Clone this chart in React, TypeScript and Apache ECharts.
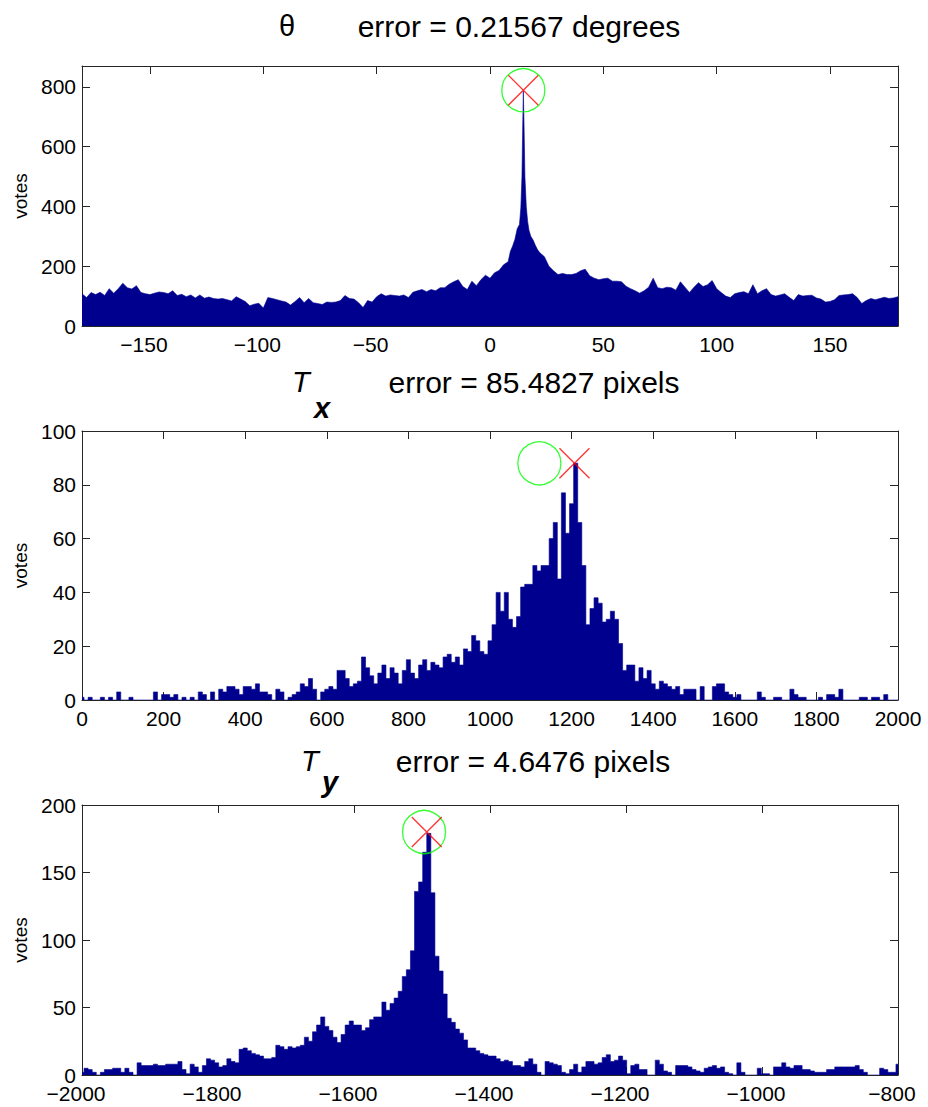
import React, { useEffect, useRef } from "react";
import * as echarts from "echarts";

const FONT = "'Liberation Sans', Arial, Helvetica, sans-serif";
const NAVY = "#00008f";
const AXIS = "#262626";

// ---------- θ histogram (degrees) ----------
// bins every 2° from -180 to 8
const THETA_LEFT = [
  108, 95, 112, 105, 113, 102, 125, 110, 125, 143,
  128, 124, 135, 112, 108, 105, 110, 114, 112, 108,
  118, 102, 106, 98, 104, 94, 104, 93, 97, 92,
  90, 92, 88, 84, 98, 90, 82, 68, 73, 76,
  60, 95, 92, 88, 84, 80, 70, 82, 95, 78,
  92, 78, 75, 72, 80, 79, 80, 85, 102, 92,
  90, 78, 62, 85, 80, 98, 108, 100, 104, 102,
  100, 104, 95, 113, 118, 122, 115, 122, 118, 128,
  128, 140, 148, 155, 132, 122, 150, 135, 155, 170,
  160, 178, 186, 205, 215,
];
// finely read peak region
const THETA_PEAK_DEG = [9, 10, 11, 12, 13, 13.6, 14.1, 14.4, 14.7, 15.0, 15.4, 16.0, 16.6, 17.2, 18, 19, 20, 21];
const THETA_PEAK_VOTES = [250, 268, 290, 325, 340, 395, 500, 650, 787, 680, 500, 400, 350, 320, 300, 288, 270, 255];
// bins every 2° from 22 to 180
const THETA_RIGHT = [
  245, 232, 200, 185, 172, 176, 172, 172, 176, 185,
  190, 168, 160, 155, 158, 160, 150, 150, 148, 133,
  125, 118, 110, 118, 130, 160, 128, 125, 130, 128,
  120, 148, 130, 112, 130, 145, 132, 138, 152, 125,
  112, 100, 95, 108, 112, 115, 108, 138, 108, 118,
  125, 105, 100, 104, 108, 96, 85, 105, 100, 102,
  103, 94, 90, 80, 82, 88, 102, 104, 105, 108,
  95, 75, 85, 92, 88, 92, 96, 92, 94, 98,
];
const THETA_TRUE = [14.7, 789];
const THETA_EST = [14.7, 789];
const THETA_X_TICKS = [-150, -100, -50, 0, 50, 100, 150];
const THETA_Y_TICKS = [0, 200, 400, 600, 800];

// ---------- Tx histogram (pixels), bins every 10 from 0 to 2000 ----------
const TX_VOTES = [
  1, 0, 1, 0, 0, 1, 0, 1, 0, 3,
  0, 0, 1, 0, 0, 0, 0, 0, 3, 0,
  2, 2, 1, 2, 0, 1, 0, 1, 0, 3,
  2, 0, 3, 0, 4, 3, 5, 5, 4, 2,
  5, 5, 4, 6, 3, 3, 2, 0, 4, 3,
  0, 1, 2, 3, 6, 5, 8, 4, 0, 3,
  4, 5, 4, 11, 11, 8, 5, 6, 7, 16,
  12, 9, 6, 10, 13, 8, 12, 10, 6, 11,
  15, 10, 8, 13, 15, 11, 14, 13, 12, 16,
  17, 14, 16, 13, 19, 18, 24, 22, 18, 17,
  22, 28, 40, 33, 40, 30, 27, 31, 42, 43,
  43, 50, 48, 50, 50, 60, 66, 45, 77, 62,
  73, 88, 66, 50, 28, 34, 38, 36, 29, 30,
  33, 30, 21, 11, 13, 13, 7, 12, 8, 11,
  6, 4, 7, 6, 5, 4, 5, 2, 4, 4,
  4, 0, 5, 0, 0, 5, 6, 6, 3, 2,
  1, 2, 0, 0, 0, 0, 3, 1, 0, 0,
  1, 1, 0, 0, 4, 2, 1, 1, 0, 0,
  0, 1, 0, 2, 2, 1, 4, 0, 0, 0,
  0, 1, 1, 0, 1, 1, 0, 2, 0, 0,
  0,
];
const TX_TRUE = [1121, 88];
const TX_EST = [1207, 88];
const TX_X_TICKS = [0, 200, 400, 600, 800, 1000, 1200, 1400, 1600, 1800, 2000];
const TX_Y_TICKS = [0, 20, 40, 60, 80, 100];

// ---------- Ty histogram (pixels), bins every 6 from -2000 to -800 ----------
const TY_VOTES = [
  2, 5, 4, 2, 0, 2, 4, 4, 5, 5,
  2, 5, 2, 0, 9, 7, 7, 7, 8, 7,
  7, 8, 8, 8, 10, 4, 1, 8, 6, 2,
  7, 12, 11, 9, 6, 7, 12, 10, 9, 19,
  20, 18, 16, 15, 14, 12, 12, 13, 22, 21,
  19, 21, 20, 21, 22, 28, 25, 32, 37, 43,
  36, 33, 28, 24, 30, 37, 40, 37, 37, 33,
  35, 41, 43, 43, 54, 48, 53, 57, 62, 73,
  78, 92, 136, 143, 165, 179, 135, 88, 77, 60,
  42, 39, 34, 31, 26, 20, 20, 18, 16, 15,
  14, 14, 12, 10, 11, 10, 7, 7, 6, 10,
  12, 8, 2, 0, 10, 9, 8, 7, 2, 1,
  4, 8, 2, 6, 10, 10, 8, 9, 13, 15,
  10, 11, 14, 11, 1, 7, 8, 4, 4, 0,
  0, 11, 8, 3, 2, 0, 7, 7, 7, 6,
  4, 3, 2, 5, 6, 7, 5, 6, 2, 1,
  0, 9, 2, 0, 0, 0, 5, 1, 1, 0,
  6, 6, 9, 6, 5, 7, 7, 4, 4, 3,
  2, 2, 2, 4, 4, 6, 6, 6, 6, 6,
  7, 4, 2, 0, 0, 0, 5, 4, 2, 2,
  8,
];
const TY_TRUE = [-1497, 180];
const TY_EST = [-1493, 180];
const TY_X_TICKS = [-2000, -1800, -1600, -1400, -1200, -1000, -800];
const TY_Y_TICKS = [0, 50, 100, 150, 200];

const LABEL_STYLE = { fontSize: 21, fontFamily: FONT, color: "#000" };

// negative labels: the minus sign hangs to the left of the centred number
const xFmt = (v: number) => (v < 0 ? `{neg|\u2212${Math.abs(v)}}` : `{pos|${v}}`);

function bins(start: number, step: number, values: number[]) {
  return values.map((v, i) => [start + step * i, v]);
}

function xAxes(grid: number, min: number, max: number, ticks: number[]) {
  const line = { show: true, onZero: false, lineStyle: { color: AXIS, width: 1 } };
  return [
    {
      type: "value", gridIndex: grid, min, max, position: "bottom",
      axisLine: line,
      axisTick: { show: true, inside: true, length: 8, customValues: ticks, lineStyle: { color: AXIS } },
      axisLabel: {
        customValues: ticks, formatter: xFmt, ...LABEL_STYLE, margin: 9,
        rich: {
          neg: { ...LABEL_STYLE, lineHeight: 18, padding: [0, 12, 0, 0] },
          pos: { ...LABEL_STYLE, lineHeight: 18 },
        },
      },
      splitLine: { show: false },
    },
    {
      type: "value", gridIndex: grid, min, max, position: "top",
      axisLine: line,
      axisTick: { show: true, inside: true, length: 8, customValues: ticks, lineStyle: { color: AXIS } },
      axisLabel: { show: false },
      splitLine: { show: false },
    },
  ];
}

function yAxes(grid: number, max: number, ticks: number[]) {
  const line = { show: true, onZero: false, lineStyle: { color: AXIS, width: 1 } };
  return [
    {
      type: "value", gridIndex: grid, min: 0, max, position: "left",
      name: "votes", nameLocation: "middle", nameGap: 50, nameRotate: 90,
      nameTextStyle: { fontSize: 19, color: "#000", fontFamily: FONT },
      axisLine: line,
      axisTick: { show: true, inside: true, length: 8, customValues: ticks, lineStyle: { color: AXIS } },
      axisLabel: { customValues: ticks, ...LABEL_STYLE, lineHeight: 16, margin: 6 },
      splitLine: { show: false },
    },
    {
      type: "value", gridIndex: grid, min: 0, max, position: "right",
      axisLine: line,
      axisTick: { show: true, inside: true, length: 8, customValues: ticks, lineStyle: { color: AXIS } },
      axisLabel: { show: false },
      splitLine: { show: false },
    },
  ];
}

function histSeries(grid: number, data: number[][], step: boolean) {
  return {
    type: "line", xAxisIndex: grid * 2, yAxisIndex: grid * 2, data,
    step: step ? "middle" : false, showSymbol: false, symbol: "none", silent: true,
    lineStyle: { color: NAVY, width: 0.6 }, itemStyle: { color: NAVY },
    areaStyle: { color: NAVY, opacity: 1 }, z: 2,
  };
}

function markers(grid: number, truth: number[], est: number[]) {
  return [
    {
      type: "scatter", xAxisIndex: grid * 2, yAxisIndex: grid * 2, data: [truth],
      symbol: "circle", symbolSize: 43, silent: true, z: 5,
      itemStyle: { color: "rgba(0,0,0,0)", borderColor: "#00ff00", borderWidth: 1.3 },
    },
    {
      type: "scatter", xAxisIndex: grid * 2, yAxisIndex: grid * 2, data: [est],
      symbol: "path://M0,0L10,10M10,0L0,10", symbolSize: 30, silent: true, z: 6,
      itemStyle: { color: "rgba(0,0,0,0)", borderColor: "#ff0000", borderWidth: 1.3 },
    },
  ];
}

function txt(text: string, x: number, y: number, size: number, align: string, extra: any = {}) {
  return {
    type: "text", x, y, silent: true,
    style: {
      text, fill: "#000", fontSize: size, fontFamily: FONT,
      textAlign: align, align, textVerticalAlign: "middle", verticalAlign: "middle",
      ...extra,
    },
  };
}

export default function App() {
  const ref = useRef<HTMLDivElement>(null);
  useEffect(() => {
    const chart = echarts.init(ref.current as HTMLDivElement, null, { renderer: "svg" });
    const thetaData = [
      ...bins(-180, 2, THETA_LEFT),
      ...THETA_PEAK_DEG.map((d, i) => [d, THETA_PEAK_VOTES[i]]),
      ...bins(22, 2, THETA_RIGHT),
    ];
    const txData = bins(0, 10, TX_VOTES);
    const tyData = bins(-2000, 6, TY_VOTES);

    const option: any = {
      animation: false,
      backgroundColor: "#ffffff",
      grid: [
        { left: 82, width: 816, top: 66, height: 260, outerBoundsMode: "none" },
        { left: 82, width: 816, top: 431, height: 269, outerBoundsMode: "none" },
        { left: 82, width: 816, top: 805, height: 270, outerBoundsMode: "none" },
      ],
      xAxis: [
        ...xAxes(0, -180, 180, THETA_X_TICKS),
        ...xAxes(1, 0, 2000, TX_X_TICKS),
        ...xAxes(2, -2000, -800, TY_X_TICKS),
      ],
      yAxis: [
        ...yAxes(0, 870, THETA_Y_TICKS),
        ...yAxes(1, 100, TX_Y_TICKS),
        ...yAxes(2, 200, TY_Y_TICKS),
      ],
      series: [
        histSeries(0, thetaData, false),
        histSeries(1, txData, true),
        histSeries(2, tyData, true),
        ...markers(0, THETA_TRUE, THETA_EST),
        ...markers(1, TX_TRUE, TX_EST),
        ...markers(2, TY_TRUE, TY_EST),
      ],
      graphic: [
        txt("θ", 287, 26, 29, "center"),
        txt("error = 0.21567 degrees", 519, 26, 30, "center"),
        txt("T", 292, 382, 29, "left", { fontStyle: "italic" }),
        txt("x", 314, 408, 29, "left", { fontStyle: "italic", fontWeight: "bold" }),
        txt("error = 85.4827 pixels", 534, 382, 30, "center"),
        txt("T", 301, 761, 29, "left", { fontStyle: "italic" }),
        txt("y", 322, 782, 29, "left", { fontStyle: "italic", fontWeight: "bold" }),
        txt("error = 4.6476 pixels", 533, 761, 30, "center"),
      ],
    };
    chart.setOption(option);
    return () => chart.dispose();
  }, []);
  return (
    <div
      ref={ref}
      style={{ position: "absolute", left: 0, top: 0, width: 928, height: 1107, background: "#fff" }}
    />
  );
}
